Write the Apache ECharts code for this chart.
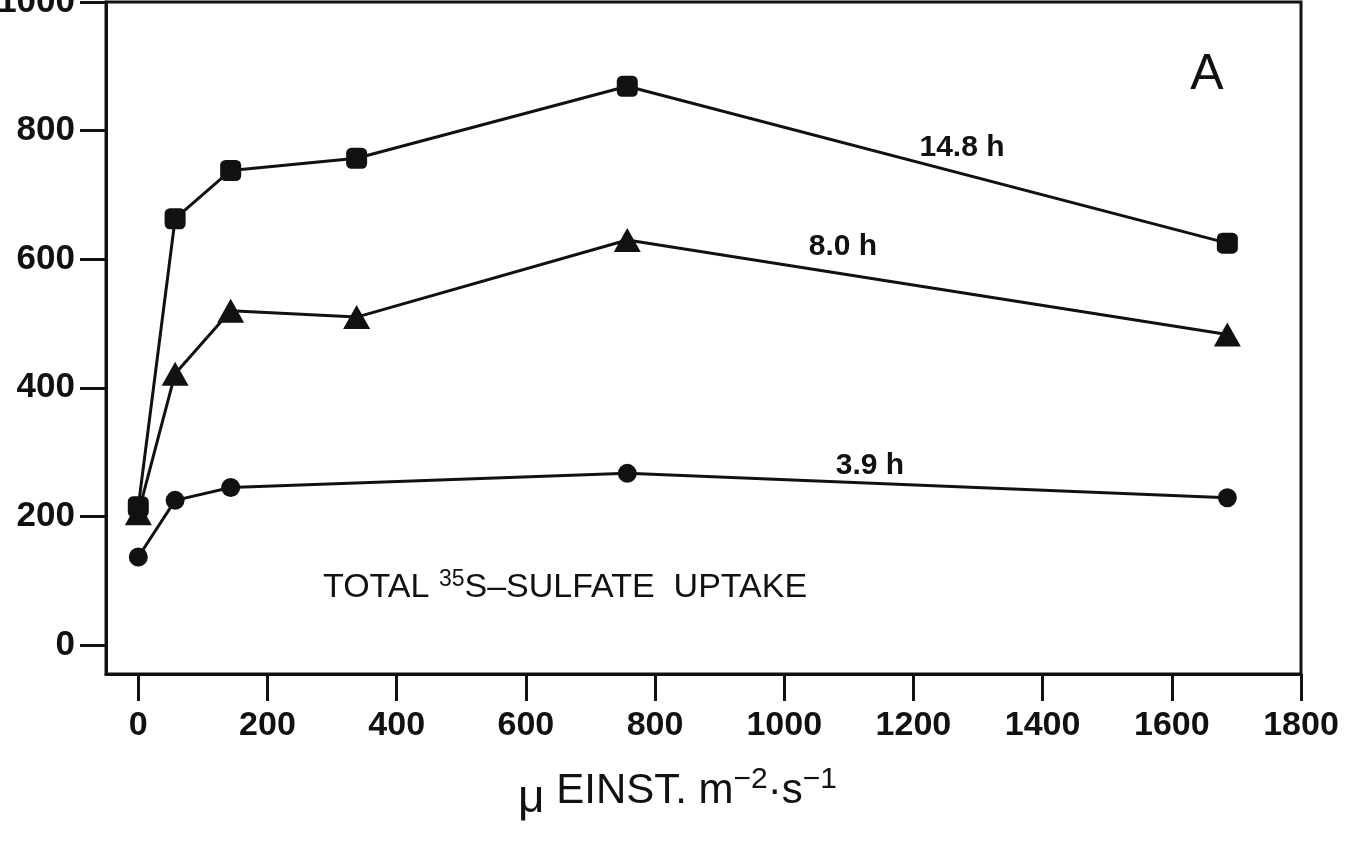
<!DOCTYPE html>
<html>
<head>
<meta charset="utf-8">
<script src="https://cdn.jsdelivr.net/npm/echarts@6/dist/echarts.min.js"></script>
<style>
html,body{margin:0;padding:0;background:#fff;}
#chart{width:1354px;height:841px;}
</style>
</head>
<body>
<div id="chart"></div>
<script>
// Light intensity (µEinst m^-2 s^-1)
const lightX = [0, 57, 143, 338, 757, 1686];
const lightX39 = [0, 57, 143, 757, 1686];
// Total 35S-sulfate uptake
const uptake148 = [215, 663, 738, 757, 869, 625];
const uptake80 = [205, 422, 520, 510, 630, 483];
const uptake39 = [137, 225, 245, 267, 229];
// Tick labels
const xTicks = [0, 200, 400, 600, 800, 1000, 1200, 1400, 1600, 1800];
const yTicks = [0, 200, 400, 600, 800, 1000];
// Text labels
const seriesNames = ['14.8 h', '8.0 h', '3.9 h'];
const panelLabel = 'A';

const FONT = '"Liberation Sans", Arial, Helvetica, sans-serif';
const INK = '#111';

function pairs(xs, ys) { return xs.map((x, i) => [x, ys[i]]); }

const chart = echarts.init(document.getElementById('chart'), null, {renderer: 'canvas'});

const lineBase = {
  type: 'line',
  lineStyle: {color: INK, width: 3},
  itemStyle: {color: INK},
  emphasis: {disabled: true},
  animation: false,
  z: 3
};

chart.setOption({
  backgroundColor: '#fff',
  animation: false,
  grid: {
    left: 106, right: 53, top: 2, bottom: 167,
    containLabel: false, outerBoundsMode: 'none',
    show: true, borderColor: INK, borderWidth: 3, backgroundColor: 'transparent'
  },
  xAxis: {
    type: 'value', min: -50, max: 1800,
    axisLine: {show: true, onZero: false, lineStyle: {color: INK, width: 3}},
    axisTick: {show: true, length: 27, lineStyle: {color: INK, width: 3}, customValues: xTicks},
    axisLabel: {color: INK, fontSize: 34, fontWeight: 'bold', fontFamily: FONT, margin: 35, customValues: xTicks,
      formatter: v => String(v)},
    splitLine: {show: false},
    name: '{mu|μ} EINST. m{sup|−2}·s{sup|−1}',
    nameLocation: 'middle',
    nameGap: 86,
    nameTextStyle: {
      color: INK, fontSize: 42, fontFamily: FONT, padding: [0, 52, 0, 0],
      rich: {
        mu: {fontSize: 46, fontFamily: FONT, color: INK, padding: [16, 0, 0, 0]},
        sup: {fontSize: 30, fontFamily: FONT, color: INK, padding: [0, 0, 22, 0]}
      }
    }
  },
  yAxis: {
    type: 'value', min: -45, max: 1000,
    axisLine: {show: true, onZero: false, lineStyle: {color: INK, width: 3}},
    axisTick: {show: true, length: 26, lineStyle: {color: INK, width: 3}, customValues: yTicks},
    axisLabel: {color: INK, fontSize: 35, fontWeight: 'bold', fontFamily: FONT, margin: 31, customValues: yTicks,
      formatter: v => String(v)},
    splitLine: {show: false}
  },
  series: [
    Object.assign({}, lineBase, {
      name: seriesNames[2],
      data: pairs(lightX39, uptake39),
      symbol: 'circle', symbolSize: 19
    }),
    Object.assign({}, lineBase, {
      name: seriesNames[1],
      data: pairs(lightX, uptake80),
      symbol: 'triangle', symbolSize: [27, 24]
    }),
    Object.assign({}, lineBase, {
      name: seriesNames[0],
      data: pairs(lightX, uptake148),
      symbol: 'roundRect', symbolSize: 21
    })
  ],
  graphic: [
    {type: 'text', z: 10, style: {x: 962, y: 148, text: seriesNames[0], fill: INK, font: 'bold 30px ' + FONT, textAlign: 'center', textVerticalAlign: 'middle'}},
    {type: 'text', z: 10, style: {x: 843, y: 247, text: seriesNames[1], fill: INK, font: 'bold 30px ' + FONT, textAlign: 'center', textVerticalAlign: 'middle'}},
    {type: 'text', z: 10, style: {x: 870, y: 466, text: seriesNames[2], fill: INK, font: 'bold 30px ' + FONT, textAlign: 'center', textVerticalAlign: 'middle'}},
    {type: 'text', z: 10, style: {x: 1207, y: 75, text: panelLabel, fill: INK, font: '50px ' + FONT, textAlign: 'center', textVerticalAlign: 'middle'}},
    {type: 'text', z: 10, left: 323, top: 568, style: {
      text: 'TOTAL {sup|35}S–SULFATE  UPTAKE',
      fill: INK, font: '34px ' + FONT,
      rich: {sup: {fontSize: 23, fontFamily: FONT, fill: INK, padding: [0, 0, 16, 0]}}
    }}
  ]
});
</script>
</body>
</html>
